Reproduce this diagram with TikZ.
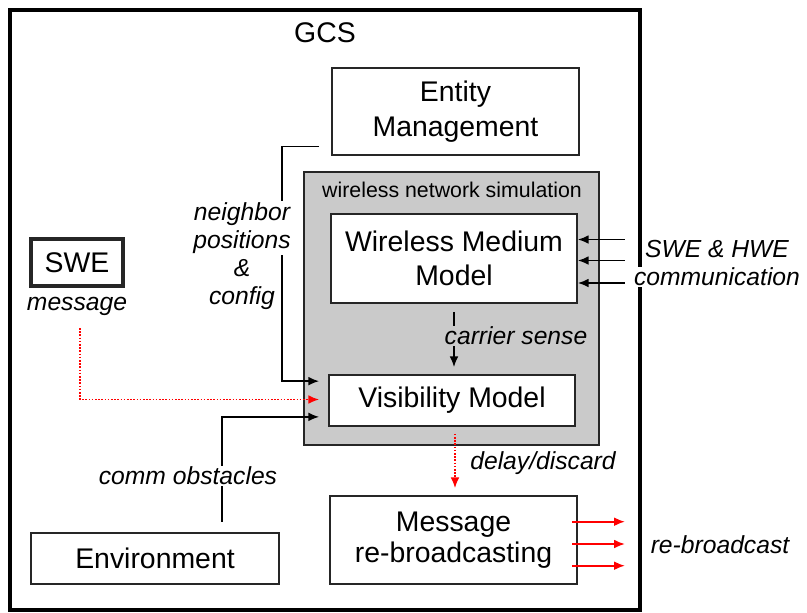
\documentclass[tikz,border=0pt]{standalone}
\usepackage{fontspec}
\setmainfont{Liberation Sans}
\usetikzlibrary{arrows.meta,calc}
\definecolor{simgray}{RGB}{202,202,202}
\definecolor{myred}{RGB}{255,0,0}
\begin{document}
\begin{tikzpicture}[x=0.75pt,y=-0.75pt,
  box/.style={draw=black!85,line width=1.3pt,fill=white,inner sep=0pt,align=center,
    font=\fontsize{21.3}{26}\selectfont},
  lbl/.style={font=\itshape\fontsize{18.5}{21}\selectfont,align=center,inner sep=1pt},
  conn/.style={line width=1.2pt,-{Latex[length=8pt,width=6.5pt]}},
  redconn/.style={conn,draw=myred,-{Latex[length=8pt,width=6.5pt,fill=myred]}},
  reddot/.style={redconn,dash pattern=on 1.2pt off 1.2pt}]
\useasboundingbox (0,0) rectangle (807,612);
% outer GCS frame
\draw[line width=2.3pt] (10,10) rectangle (640,610);
\node[font=\fontsize{21.3}{26}\selectfont] (gcs) at (325,33) {GCS};
% simulation gray area
\node[draw=black!85,line width=1.3pt,fill=simgray,minimum width=295*0.75pt,minimum height=273*0.75pt,inner sep=0pt] (sim) at (451.5,308.5) {};
\node[font=\fontsize{16}{19}\selectfont] (simlbl) at (452,190) {wireless network simulation};
% boxes
\node[box,minimum width=247*0.75pt,minimum height=87*0.75pt] (em) at (455.5,111.5) {Entity\\Management};
\node[box,minimum width=246*0.75pt,minimum height=89*0.75pt] (wmm) at (454,258.5) {Wireless Medium\\Model};
\node[box,minimum width=246*0.75pt,minimum height=51*0.75pt] (vis) at (452,400.5) {Visibility Model};
\node[box,line width=2.3pt,minimum width=92*0.75pt,minimum height=47*0.75pt] (swe) at (77,262.5) {SWE};
\node[box,minimum width=248*0.75pt,minimum height=51*0.75pt] (env) at (155,558.5) {Environment};
\node[box,font=\fontsize{21.3}{23}\selectfont,minimum width=247*0.75pt,minimum height=88*0.75pt] (mr) at (453.5,540) {Message\\re-broadcasting};
% neighbor positions
\coordinate (npS) at ($(em.south west)+(-12,-9.5)$);
\coordinate (npE) at ($(vis.north west)+(-9,7)$);
\draw[conn] (npS) -- ++(-37,0) |- (npE);
\node[lbl,fill=white] (np1) at (242,228) {neighbor\\positions};
\node[lbl] (np2) at (242,285) {\&\\config};
% message (red dotted)
\node[lbl] (msg) at (77,306) {message};
\coordinate (msgS) at (80,328);
\coordinate (msgE) at ($(vis.west)+(-9,-1)$);
\draw[reddot] (msgS) |- (msgE);
% comm obstacles
\coordinate (coS) at ($(env.north)+(67,-10.5)$);
\coordinate (coE) at ($(vis.south west)+(-9,-10)$);
\draw[conn] (coS) |- (coE);
\node[lbl,fill=white] (co) at (188,476) {comm obstacles};
% carrier sense
\coordinate (csS) at ($(wmm.south)+(0,8)$);
\coordinate (csE) at ($(vis.north)+(2,-7)$);
\draw[conn] (csS) -- (csS |- csE);
\node[lbl,fill=simgray,inner sep=0.5pt] (cs) at (516,336) {carrier sense};
% SWE & HWE communication
\foreach \dy [count=\i] in {-19,2,24.5} {
  \coordinate (in\i) at ($(wmm.east)+(47,\dy)$);
  \draw[conn] (in\i) -- (wmm.east |- in\i);
}
\node[lbl] (hw1) at (717,249) {SWE \& HWE};
\node[lbl,fill=white,inner sep=0.5pt] (hw2) at (717,277) {communication};
% delay/discard
\coordinate (ddS) at ($(vis.south)+(3,7)$);
\coordinate (ddE) at ($(mr.north)+(1.5,-7)$);
\draw[reddot] (ddS) -- (ddS |- ddE);
\node[lbl] (dd) at (543,463) {delay/discard};
% re-broadcast
\foreach \dy [count=\i] in {-18.3,4,25.7} {
  \coordinate (rb\i) at ($(mr.east)+(-5.5,\dy)$);
  \draw[redconn] (rb\i) -- ++(52.5,0);
}
\node[lbl] (rb) at (720,545) {re-broadcast};
\end{tikzpicture}
\end{document}
